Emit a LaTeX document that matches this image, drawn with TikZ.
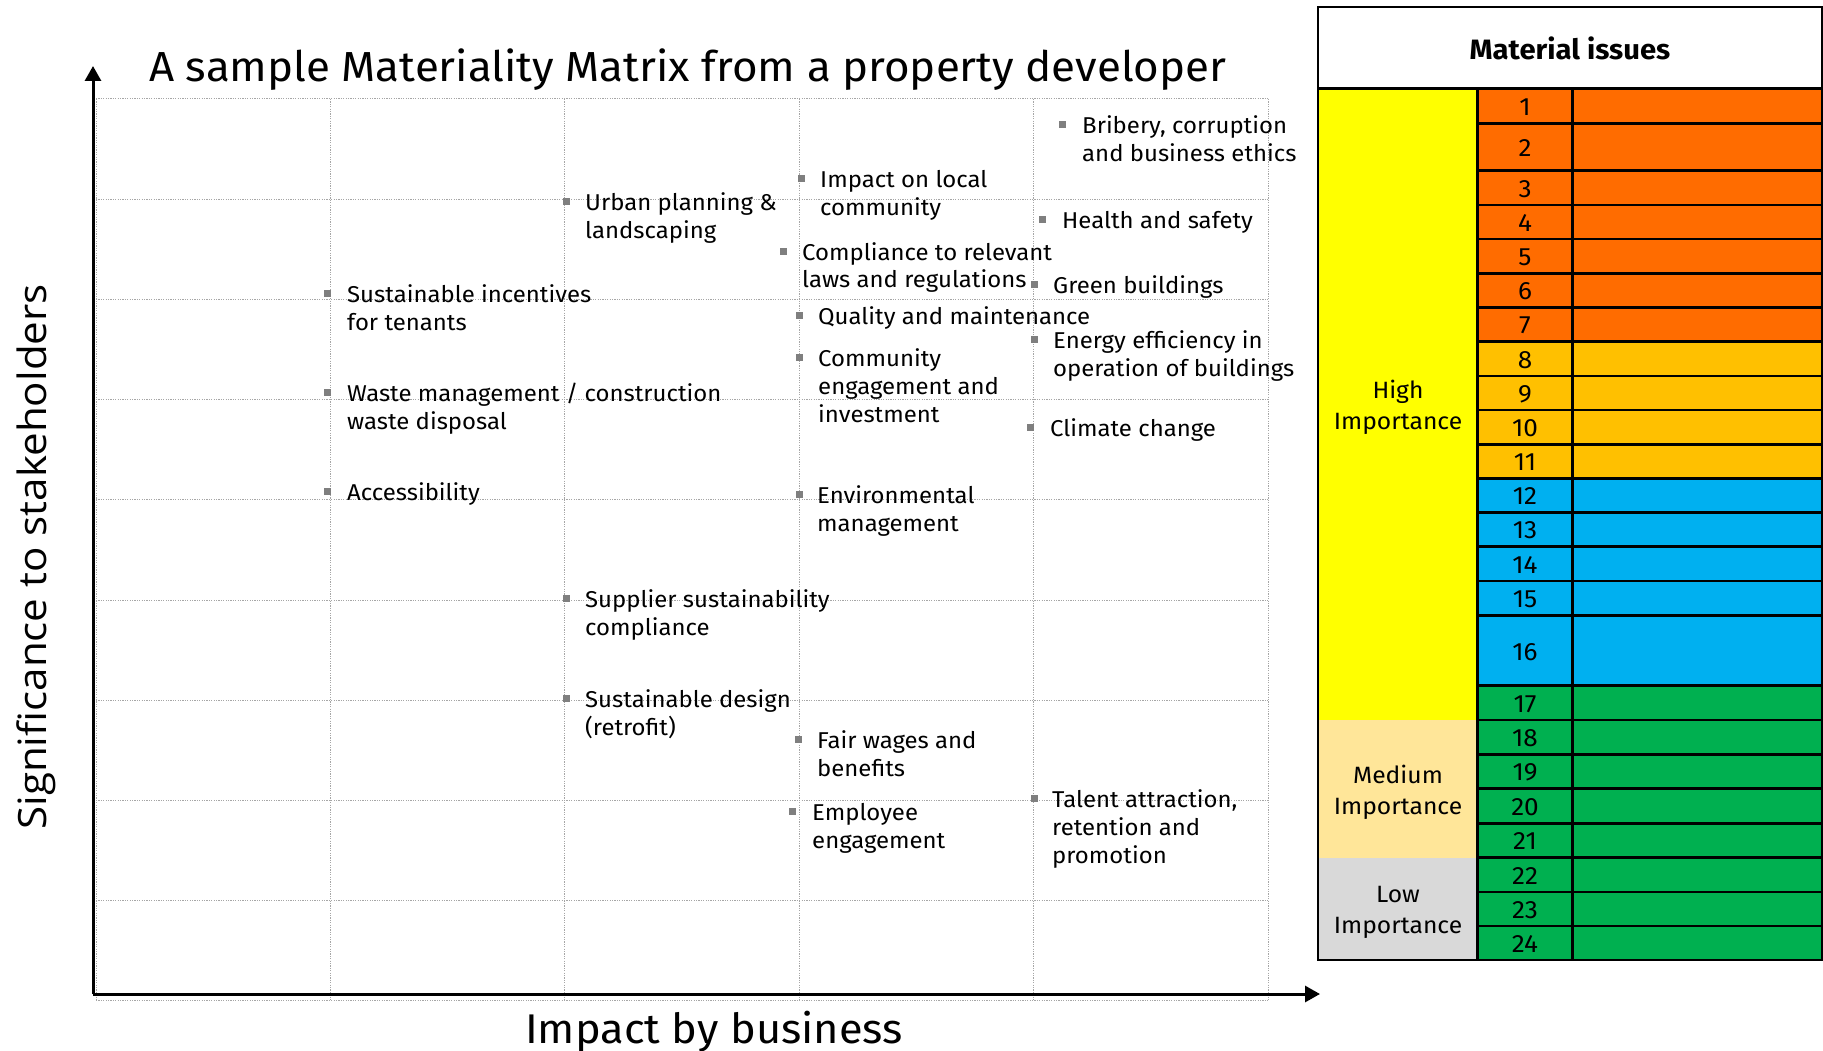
\documentclass[tikz,border=0pt]{standalone}
\usepackage{fontspec}
\setmainfont{Fira Sans}[FakeStretch=1.045]
\newfontfamily\ylabfont{Open Sans}[FakeStretch=1.08]
\usetikzlibrary{arrows.meta}
\definecolor{gridgray}{HTML}{A6A6A6}
\definecolor{bulletgray}{HTML}{7F7F7F}
\definecolor{cOrange}{HTML}{FF6C00}
\definecolor{cGold}{HTML}{FFC000}
\definecolor{cBlue}{HTML}{00B0F0}
\definecolor{cGreen}{HTML}{00B050}
\definecolor{cYellow}{HTML}{FFFF00}
\definecolor{cPeach}{HTML}{FFE699}
\definecolor{cLight}{HTML}{D9D9D9}
\newcommand{\lbtext}[1]{\begin{tabular}[t]{@{}l@{}}#1\end{tabular}}
\tikzset{
  gridline/.style={draw=gridgray, line width=1pt, dash pattern=on 1.2pt off 1.2pt},
  axisline/.style={line width=3pt, -{Triangle[width=16pt,length=15pt]}},
  bulletbox/.style={fill=bulletgray, minimum size=7pt, inner sep=0pt, draw=none},
  labeltext/.style={anchor=base west, inner sep=0pt, font=\fontsize{22.9}{28}\selectfont},
  cellline/.style={draw=black, line width=2.5pt},
  numtext/.style={inner sep=0pt, font=\fontsize{25}{28}\selectfont},
  imptext/.style={inner sep=0pt, align=center, font=\fontsize{23.6}{31}\selectfont},
}
\newcommand{\issue}[5]{%
  \node[bulletbox] (b#1) at (#2,#3) {};
  \node[labeltext] (t#1) at (#4,#3+9) {\lbtext{#5}};
}
\begin{document}
\begin{tikzpicture}[x=1pt,y=-1pt]
\useasboundingbox (0,0) rectangle (1823,1051);
\fill[white] (0,0) rectangle (1823,1051);
% grid
\foreach \k in {0,...,9} {
  \draw[gridline] (96,{99+100.2*\k}) -- (1268,{99+100.2*\k});
}
\foreach \j in {0,...,5} {
  \draw[gridline] ({96+234.4*\j},99) -- ({96+234.4*\j},1001);
}
% axes
\coordinate (O) at (93,994);
\coordinate (xend) at (1320,994);
\coordinate (yend) at (93,66);
\draw[axisline] (O) -- (xend);
\draw[axisline] (O) -- (yend);
% titles
\node[anchor=base west, inner sep=0pt, font=\fontsize{42}{48}\selectfont] (title) at (149,82)
  {A sample Materiality Matrix from a property developer};
\node[anchor=base, inner sep=0pt, font=\fontsize{41.5}{48}\selectfont] (xlabel) at (714,1043)
  {Impact by business};
\node[anchor=base, rotate=90, inner sep=0pt, font=\ylabfont\fontsize{39}{44}\selectfont] (ylabel) at (46,557)
  {Significance to stakeholders};
% issues
\issue{1}{1062}{125}{1082}{Bribery, corruption\\and business ethics}
\issue{2}{801}{179}{820}{Impact on local\\community}
\issue{3}{1042}{220}{1062}{Health and safety}
\issue{4}{783}{251}{802}{Compliance to relevant\\laws and regulations}
\issue{5}{1034}{284}{1053}{Green buildings}
\issue{6}{799}{315}{818}{Quality and maintenance}
\issue{7}{1034}{339}{1053}{Energy efficiency in\\operation of buildings}
\issue{8}{799}{357}{818}{Community\\engagement and\\investment}
\issue{9}{1030}{427}{1050}{Climate change}
\issue{10}{566}{202}{585}{Urban planning \&\\landscaping}
\issue{11}{327}{293}{347}{Sustainable incentives\\for tenants}
\issue{12}{327}{392}{347}{Waste management / construction\\waste disposal}
\issue{13}{327}{491}{347}{Accessibility}
\issue{14}{799}{494}{817}{Environmental\\management}
\issue{15}{566}{598}{585}{Supplier sustainability\\compliance}
\issue{16}{566}{698}{585}{Sustainable design\\(retrofit)}
\issue{17}{798}{739}{817}{Fair wages and\\benefits}
\issue{18}{792}{811}{812}{Employee\\engagement}
\issue{19}{1034}{798}{1052}{Talent attraction,\\retention and\\promotion}
% table
\fill[cYellow] (1318,88.3) rectangle (1477.7,720);
\fill[cPeach] (1318,720) rectangle (1477.7,857.7);
\fill[cLight] (1318,857.7) rectangle (1477.7,960);
\foreach \n/\ya/\yb/\col in {
  1/88.3/123.3/cOrange, 2/123.3/170.7/cOrange, 3/170.7/205/cOrange, 4/205/239/cOrange,
  5/239/273.3/cOrange, 6/273.3/307.3/cOrange, 7/307.3/341.7/cOrange,
  8/341.7/376/cGold, 9/376/410/cGold, 10/410/444.3/cGold, 11/444.3/478.7/cGold,
  12/478.7/512.3/cBlue, 13/512.3/546.7/cBlue, 14/546.7/581/cBlue, 15/581/615.7/cBlue, 16/615.7/685.7/cBlue,
  17/685.7/720/cGreen, 18/720/754.3/cGreen, 19/754.3/788.7/cGreen, 20/788.7/823.3/cGreen,
  21/823.3/857.7/cGreen, 22/857.7/892/cGreen, 23/892/926/cGreen, 24/926/960/cGreen} {
  \fill[\col] (1477.7,\ya) rectangle (1822,\yb);
  \draw[cellline] (1477.7,\ya) rectangle (1572.3,\yb);
  \draw[cellline] (1572.3,\ya) rectangle (1822,\yb);
  \node[numtext] (n\n) at (1525,{(\ya+\yb)/2+1}) {\n};
}
\draw[cellline] (1318,7) rectangle (1822,960);
\draw[cellline] (1318,88.3) -- (1822,88.3);
\node[inner sep=0pt, font=\bfseries\fontsize{28}{32}\selectfont] (head) at (1570,48) {Material issues};
\node[imptext] (high) at (1398,407) {High\\Importance};
\node[imptext] (medium) at (1398,792) {Medium\\Importance};
\node[imptext] (low) at (1398,912) {Low\\Importance};
\end{tikzpicture}
\end{document}
